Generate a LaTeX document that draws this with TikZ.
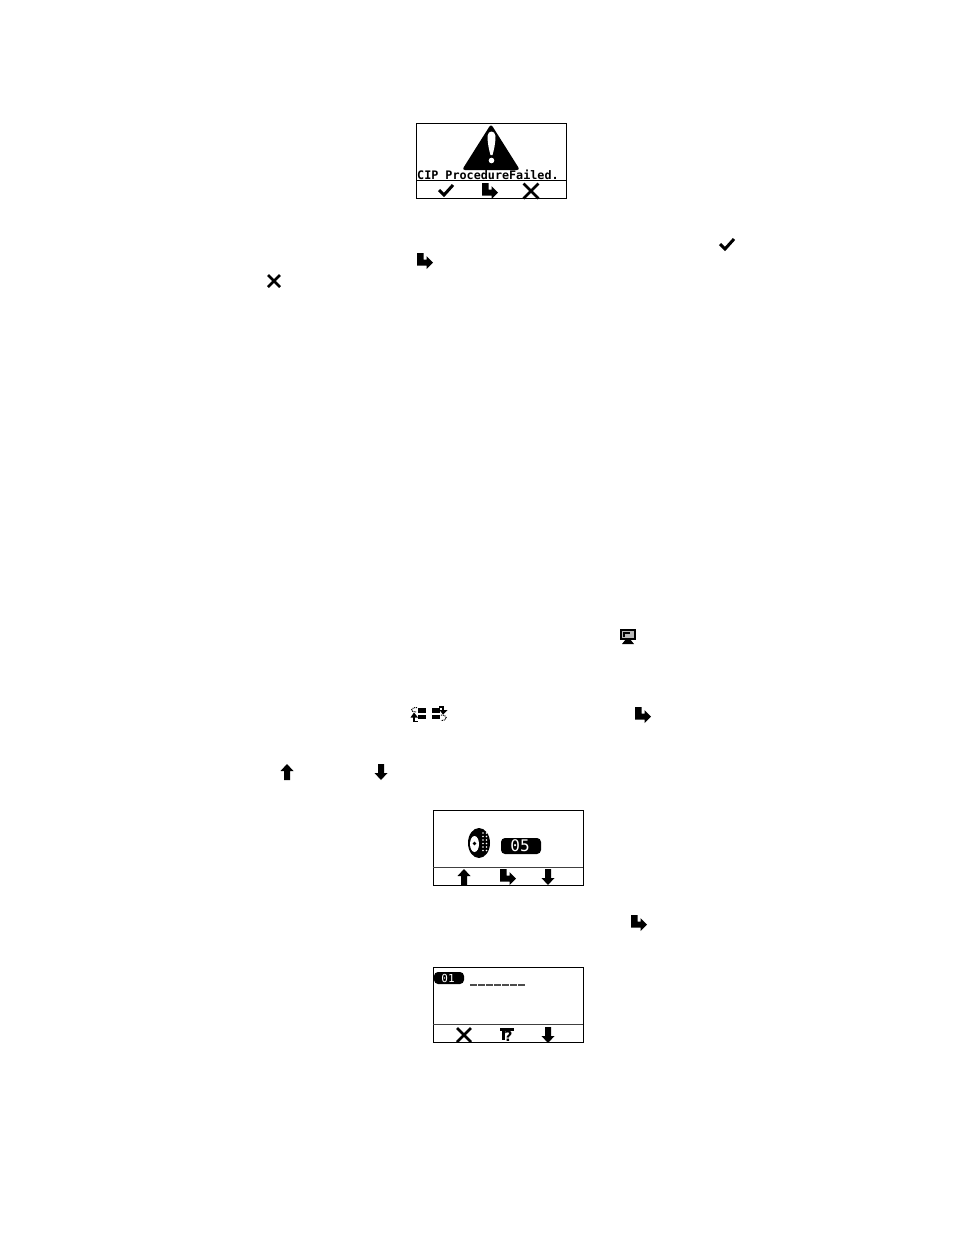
\documentclass[tikz,border=0pt]{standalone}
\usepackage{fontspec}
\setmonofont{DejaVu Sans Mono}
\setsansfont{DejaVu Sans}
\tikzset{
  panelline/.style={line width=1pt},
  dividerline/.style={line width=1.2pt,black!75},
  lcdtext/.style={font=\ttfamily\bfseries\fontsize{11.75}{12}\selectfont,inner sep=0pt},
  badge/.style={fill=black,rounded corners=4pt},
  dotline/.style={line width=1pt,dash pattern=on 1pt off .8pt},
}
\newcommand{\turnicon}[2]{\fill[shift={(#1,#2)}] (-8,-8)--(-1.5,-8)--(-1.5,-1.5)--(1.5,-1.5)--(1.5,-5)--(8,1.5)--(1.5,8)--(1.5,4.5)--(-8,4.5)--cycle;}
\newcommand{\checkicon}[2]{\draw[shift={(#1,#2)},line width=3pt] (-7,-1)--(-2,4)--(7,-6);}
\newcommand{\crossicon}[3]{\draw[shift={(#1,#2)},line width=2.7pt] (-#3,-#3)--(#3,#3) (-#3,#3)--(#3,-#3);}
\newcommand{\upicon}[2]{\fill[shift={(#1,#2)}] (0,-8)--(6.5,-1)--(3,-1)--(3,8)--(-3,8)--(-3,-1)--(-6.5,-1)--cycle;}
\newcommand{\downicon}[2]{\fill[shift={(#1,#2)}] (0,8)--(6.5,1)--(3,1)--(3,-8)--(-3,-8)--(-3,1)--(-6.5,1)--cycle;}
\begin{document}
\begin{tikzpicture}[x=1pt,y=-1pt]
  \useasboundingbox (0,0) rectangle (954,1235);
  \fill[white] (0,0) rectangle (954,1235);
  % first screen
  \draw[panelline] (416,123) rectangle (566,198);
  \draw[panelline] (416,180.5)--(566,180.5);
  \fill[rounded corners=3pt] (491,124)--(520,170)--(462,170)--cycle;
  \fill[white] (487.5,136) .. controls (488,130) and (495,130) .. (495.5,136) .. controls (495.5,143) and (494,150) .. (492.5,155) -- (490.5,155) .. controls (489,150) and (487.5,143) .. (487.5,136) -- cycle;
  \fill[white] (491.5,160.5) circle (2.8);
  \node[lcdtext,anchor=west] (failtext) at (417,175) {CIP ProcedureFailed.};
  \checkicon{446}{191}
  \turnicon{490}{191}
  \crossicon{531}{191}{7.5}
  % icons in the running text
  \checkicon{727}{245}
  \turnicon{425}{261}
  \crossicon{274}{281}{6}
  % monitor
  \fill (620,629) rectangle (636,640);
  \fill[gray!55] (622,631) rectangle (634,638);
  \fill (623,632) rectangle (630,633.5);
  \fill (623,632) rectangle (624.5,636.5);
  \fill (626,639)--(630,639)--(634,644)--(622,644)--cycle;
  % menu arrows
  \fill (418,708) rectangle (426,712.5);
  \fill (418,714.5) rectangle (426,718.5);
  \fill (432,708) rectangle (440,712.5);
  \fill (432,714.5) rectangle (440,718.5);
  \draw[dotline] (417,707.5) .. controls (410,707.5) and (410,712) .. (416,712);
  \fill (414,712.5)--(418,717.5)--(410.5,717.5)--cycle;
  \draw[line width=1.2pt] (414,717)--(414,721.5)--(418,721.5);
  \draw[line width=1.2pt] (439,707)--(443,707)--(443,711);
  \fill (443,714.5)--(447.5,710)--(439.5,710)--cycle;
  \draw[dotline] (441,715) .. controls (448,715) and (448,720.5) .. (441,720.5);
  \turnicon{643}{715}
  \upicon{287}{772}
  \downicon{381}{772}
  % second screen
  \draw[panelline] (433,810) rectangle (583,885);
  \draw[dividerline] (433,867.5)--(583,867.5);
  \fill (479,843) ellipse (11 and 15);
  \fill[white] (474.5,844) ellipse (4.5 and 8);
  \fill (474.5,843.5) circle (1.8);
  \foreach \y in {833,836.5,...,853} {
    \fill[white] (483,\y) circle (.8);
    \fill[white] (486.5,\y) circle (.8);
  }
  \fill[badge] (501,838) rectangle (541,854);
  \node[lcdtext,text=white,font=\ttfamily\fontsize{16}{16}\selectfont] (tyrecount) at (520,846) {05};
  \upicon{464}{877}
  \turnicon{508}{877}
  \downicon{548}{877}
  \turnicon{639}{923}
  % third screen
  \draw[panelline] (433,967) rectangle (583,1042);
  \draw[dividerline] (433,1024.5)--(583,1024.5);
  \fill[badge] (434,972) rectangle (464,984);
  \node[lcdtext,text=white,font=\ttfamily\fontsize{11}{11}\selectfont] (faultnum) at (448,978) {01};
  \foreach \x in {470,478,...,518}
    \draw[line width=1.2pt,black!70] (\x,985)--(\x+6.5,985);
  \crossicon{464}{1035}{7}
  \fill (499.5,1028) rectangle (514,1030.5);
  \fill (502,1030) rectangle (505,1040);
  \node[font=\sffamily\bfseries\fontsize{14}{14}\selectfont,inner sep=0pt] (helpmark) at (508.5,1036) {?};
  \downicon{548}{1035}
\end{tikzpicture}
\end{document}
